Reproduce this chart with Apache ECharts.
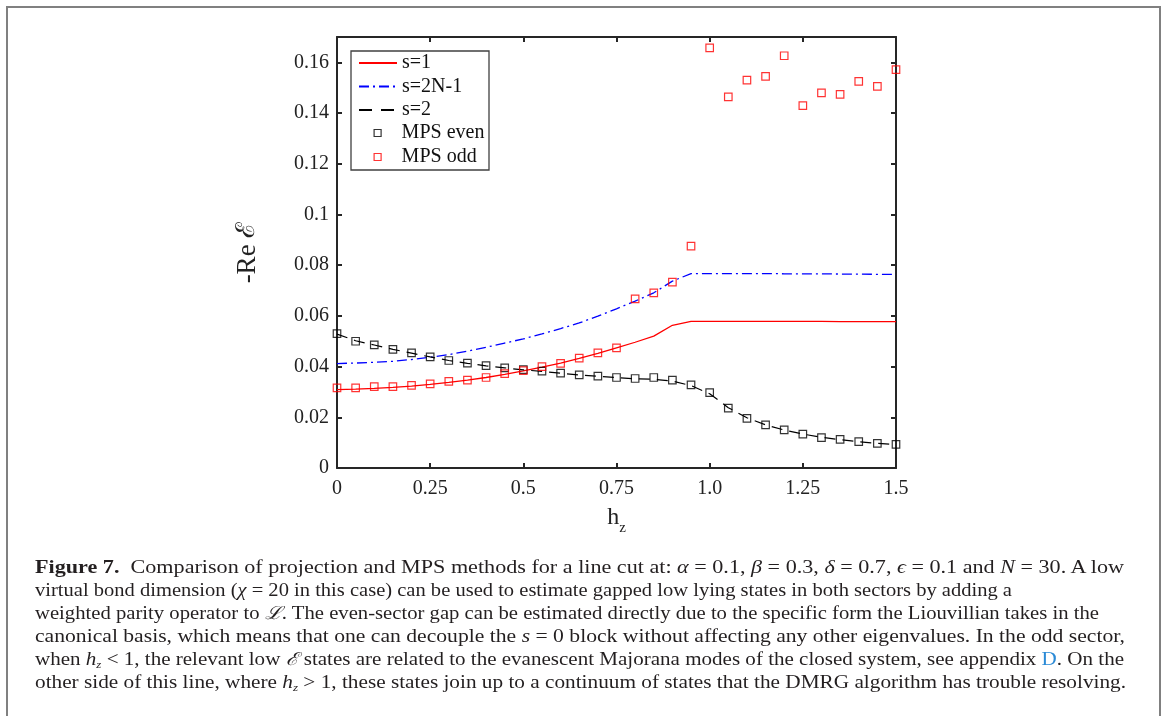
<!DOCTYPE html>
<html><head><meta charset="utf-8">
<script src="https://cdn.jsdelivr.net/npm/echarts@6/dist/echarts.min.js"></script>
<style>
html,body{margin:0;padding:0;background:#fff;width:1163px;height:716px;overflow:hidden;}
#frame{position:absolute;left:6px;top:6px;width:1155px;height:780px;border:2px solid #808080;box-sizing:border-box;}
#chart{position:absolute;left:0;top:0;width:1163px;height:716px;}
#cap{position:absolute;left:35px;top:556px;font-family:"Liberation Serif","DejaVu Serif",serif;font-size:18px;color:#231f20;}
.ln{white-space:nowrap;height:23px;line-height:23px;transform-origin:0 50%;display:block;width:max-content;}
.ln i{font-style:italic;}
.blue{color:#2a8ad6;}
sub{font-size:11px;vertical-align:-3px;line-height:0;}
</style></head>
<body>
<div id="frame"></div>
<div id="chart"></div>
<div id="cap">
<div class="ln" data-w="1089"><b>Figure 7.</b>&nbsp; Comparison of projection and MPS methods for a line cut at: <i>α</i> = 0.1, <i>β</i> = 0.3, <i>δ</i> = 0.7, <i>ϵ</i> = 0.1 and <i>N</i> = 30. A low</div>
<div class="ln" data-w="977">virtual bond dimension (<i>χ</i> = 20 in this case) can be used to estimate gapped low lying states in both sectors by adding a</div>
<div class="ln" data-w="1064">weighted parity operator to <i>ℒ</i>. The even-sector gap can be estimated directly due to the specific form the Liouvillian takes in the</div>
<div class="ln" data-w="1090">canonical basis, which means that one can decouple the <i>s</i> = 0 block without affecting any other eigenvalues. In the odd sector,</div>
<div class="ln" data-w="1089">when <i>h<sub>z</sub></i> &lt; 1, the relevant low <i>ℰ</i> states are related to the evanescent Majorana modes of the closed system, see appendix <span class="blue">D</span>. On the</div>
<div class="ln" data-w="1091">other side of this line, where <i>h<sub>z</sub></i> &gt; 1, these states join up to a continuum of states that the DMRG algorithm has trouble resolving.</div>
</div>
<script>
// ---- data ----
const hz = [0,0.05,0.1,0.15,0.2,0.25,0.3,0.35,0.4,0.45,0.5,0.55,0.6,0.65,0.7,0.75,0.8,0.85,0.9,0.95,1.0,1.05,1.1,1.15,1.2,1.25,1.3,1.35,1.4,1.45,1.5];
const s1 = [0.0309,0.0311,0.0314,0.0318,0.0323,0.0330,0.0338,0.0347,0.0357,0.0369,0.0383,0.0398,0.0414,0.0432,0.0452,0.0474,0.0496,0.0520,0.0563,0.0578,0.0578,0.0578,0.0578,0.0578,0.0578,0.0578,0.0578,0.0577,0.0577,0.0577,0.0577];
const s2N1 = [0.0412,0.0414,0.0417,0.0421,0.0428,0.0437,0.0447,0.0461,0.0476,0.0493,0.0509,0.0529,0.0550,0.0572,0.0599,0.0628,0.0658,0.0691,0.0737,0.0767,0.0767,0.0767,0.0767,0.0767,0.0766,0.0766,0.0766,0.0765,0.0765,0.0764,0.0764];
const s2 = [0.0528,0.0502,0.0485,0.0468,0.0453,0.0438,0.0424,0.0413,0.0403,0.0395,0.0387,0.0381,0.0374,0.0367,0.0362,0.0357,0.0352,0.0350,0.0343,0.0325,0.0293,0.0238,0.0198,0.0170,0.0150,0.0134,0.0121,0.0112,0.0104,0.0097,0.0092];
const mpsEven = [0.0530,0.0500,0.0486,0.0468,0.0454,0.0438,0.0424,0.0414,0.0404,0.0395,0.0388,0.0382,0.0374,0.0367,0.0362,0.0357,0.0353,0.0357,0.0347,0.0328,0.0297,0.0236,0.0196,0.0170,0.0150,0.0134,0.0120,0.0113,0.0104,0.0097,0.0093];
const mpsOdd = [0.0316,0.0316,0.0321,0.0321,0.0326,0.0332,0.0342,0.0347,0.0357,0.0372,0.0384,0.0400,0.0413,0.0433,0.0454,0.0474,0.0667,0.0691,0.0733,0.0875,0.1657,0.1464,0.1530,0.1545,0.1626,0.1429,0.1480,0.1474,0.1525,0.1505,0.1571];
const xTicks = [0,0.25,0.5,0.75,1.0,1.25,1.5];
const xTickLabels = ['0','0.25','0.5','0.75','1.0','1.25','1.5'];
const yTicks = [0,0.02,0.04,0.06,0.08,0.1,0.12,0.14,0.16];
const yTickLabels = ['0','0.02','0.04','0.06','0.08','0.1','0.12','0.14','0.16'];
const seriesNames = ['s=1','s=2N-1','s=2','MPS even','MPS odd'];

function lab(v, ticks, labels){
  for (let i=0;i<ticks.length;i++){ if (Math.abs(v-ticks[i])<1e-9) return labels[i]; }
  return '';
}
const pairs = ys => hz.map((x,i)=>[x, ys[i]]);
const FONT = '"Liberation Serif","DejaVu Serif",serif';
const AX = '#262626';
const HIDE = {color:'rgba(0,0,0,0)', borderWidth:0, opacity:0};

const chart = echarts.init(document.getElementById('chart'), null, {renderer:'canvas'});
const baseX = {type:'value', min:0, max:1.5, interval:0.25, splitLine:{show:false},
  axisLine:{show:true, onZero:false, lineStyle:{color:AX, width:2}},
  axisTick:{show:true, inside:true, length:5, lineStyle:{color:AX, width:2}}};
const baseY = {type:'value', min:0, max:0.17, interval:0.02, splitLine:{show:false},
  axisLine:{show:true, onZero:false, lineStyle:{color:AX, width:2}},
  axisTick:{show:true, inside:true, length:5, lineStyle:{color:AX, width:2}}};

const option = {
  animation:false,
  backgroundColor:'transparent',
  grid:{left:337, right:267, top:37, bottom:248, containLabel:false},
  xAxis:[
    Object.assign({}, baseX, {position:'bottom',
      axisLabel:{formatter:v=>lab(v,xTicks,xTickLabels), fontSize:20, fontFamily:FONT, color:'#222', margin:11},
      name:'{h|h}{z|z}', nameLocation:'middle', nameGap:38,
      nameTextStyle:{rich:{h:{fontSize:24, fontFamily:FONT, color:'#222', lineHeight:30, verticalAlign:'top'},
                           z:{fontSize:15, fontFamily:FONT, color:'#222', lineHeight:30, verticalAlign:'bottom', padding:[14,0,0,0]}}}}),
    Object.assign({}, baseX, {position:'top', axisLabel:{show:false}})
  ],
  yAxis:[
    Object.assign({}, baseY, {position:'left',
      axisLabel:{formatter:v=>lab(v,yTicks,yTickLabels), fontSize:20, fontFamily:FONT, color:'#222', margin:8},
      name:'{a|-Re }{b|ℰ}', nameLocation:'middle', nameGap:76, nameRotate:90,
      nameTextStyle:{rich:{a:{fontSize:27, fontFamily:FONT, color:'#222'}, b:{fontSize:26, fontFamily:'"DejaVu Serif",serif', color:'#222'}}}}),
    Object.assign({}, baseY, {position:'right', axisLabel:{show:false}})
  ],
  legend:[
    {data:[{name:seriesNames[0], itemStyle:HIDE},
           {name:seriesNames[1], itemStyle:HIDE},
           {name:seriesNames[2], itemStyle:HIDE, lineStyle:{type:[13,9]}}],
     orient:'vertical', left:358, top:53, padding:0, itemGap:3.5,
     itemWidth:38, itemHeight:14, textStyle:{fontSize:20, fontFamily:FONT, color:'#111', lineHeight:20}, selectedMode:false},
    {data:[{name:seriesNames[3], icon:'rect', itemStyle:{color:'rgba(0,0,0,0)', borderColor:'#000', borderWidth:1.2}},
           {name:seriesNames[4], icon:'rect', itemStyle:{color:'rgba(0,0,0,0)', borderColor:'#ff0000', borderWidth:1.2}}],
     orient:'vertical', left:373.5, top:123, padding:0, itemGap:4,
     itemWidth:7, itemHeight:7, textStyle:{fontSize:20, fontFamily:FONT, color:'#111', lineHeight:20, padding:[0,0,0,15.5]}, selectedMode:false}
  ],
  graphic:[{type:'rect', z:3, shape:{x:351, y:51, width:138, height:119}, style:{fill:'#fff', stroke:'#404040', lineWidth:1.3}}],
  series:[
    {name:seriesNames[0], type:'line', data:pairs(s1), symbol:'none', z:3,
     lineStyle:{color:'#ff0000', width:1.3}, itemStyle:{color:'#ff0000'}, emphasis:{disabled:true}},
    {name:seriesNames[1], type:'line', data:pairs(s2N1), symbol:'none', z:3,
     lineStyle:{color:'#0000ff', width:1.3, type:[10,4,2,4]}, itemStyle:{color:'#0000ff'}, emphasis:{disabled:true}},
    {name:seriesNames[2], type:'line', data:pairs(s2), symbol:'none', z:3,
     lineStyle:{color:'#000', width:1.2, type:[11,7]}, itemStyle:{color:'#000'}, emphasis:{disabled:true}},
    {name:seriesNames[3], type:'scatter', data:pairs(mpsEven), symbol:'rect', symbolSize:7.5, z:4,
     itemStyle:{color:'rgba(0,0,0,0)', borderColor:'#000', borderWidth:1.2}, emphasis:{disabled:true}},
    {name:seriesNames[4], type:'scatter', data:pairs(mpsOdd), symbol:'rect', symbolSize:7.5, z:4,
     itemStyle:{color:'rgba(0,0,0,0)', borderColor:'#ff0000', borderWidth:1.2}, emphasis:{disabled:true}}
  ]
};
chart.setOption(option);

// fit caption lines to the reference widths
document.querySelectorAll('#cap .ln').forEach(el=>{
  const target = parseFloat(el.dataset.w);
  const w = el.getBoundingClientRect().width;
  if (w>0) el.style.transform = 'scaleX(' + (target/w) + ')';
});
</script>
</body></html>
